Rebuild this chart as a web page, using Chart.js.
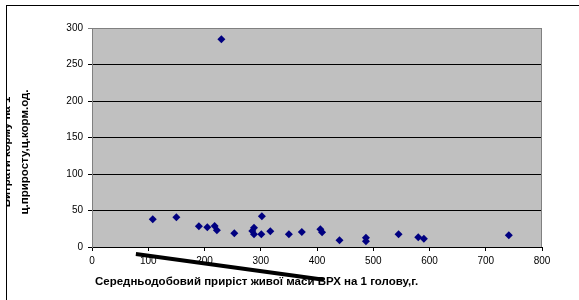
<!DOCTYPE html>
<html>
<head>
<meta charset="utf-8">
<script src="https://cdn.jsdelivr.net/npm/chart.js@4"></script>
<style>
  html, body { margin: 0; padding: 0; background: #fff; }
  #frame {
    position: absolute; left: 6px; top: 5px; width: 573px; height: 295px;
    border-left: 1px solid #000; border-top: 1px solid #000;
    overflow: hidden; box-sizing: border-box;
  }
  #chart { position: absolute; left: -7px; top: -6px; }
</style>
</head>
<body>
<div id="frame"><canvas id="chart" width="579" height="300"></canvas></div>
<script>
// average daily gain (g) vs feed used per 1 c of gain
const gain = [108, 150, 190, 205, 218, 222, 230, 253, 288, 285, 288, 302, 301, 317,
  350, 373, 406, 409, 440, 487, 487, 545, 580, 590, 741];
const feed = [38, 40.7, 28.4, 27, 28.8, 22.9, 284.7, 18.8, 26.5, 22, 17.5, 42.2, 17.4, 21.7,
  17.4, 20.6, 24.2, 20.1, 9.2, 12.8, 7.8, 17.4, 13.3, 11.4, 16];

// stray pen stroke drawn over the axis, in axis units
const strokeX = [78, 412];
const strokeY = [-9.5, -45];

const xTitle = 'Середньодобовий приріст живої маси ВРХ на 1 голову,г.';
const yTitle = ['Витрати корму на 1', 'ц.приросту,ц.корм.од.'];

const tickFont = { family: 'Liberation Sans', size: 10 };

const plotBox = {
  id: 'plotBox',
  beforeDraw(chart) {
    const { ctx, chartArea: a } = chart;
    ctx.save();
    ctx.fillStyle = '#c0c0c0';
    ctx.fillRect(a.left, a.top, a.right - a.left, a.bottom - a.top);
    ctx.restore();
  },
  beforeDatasetsDraw(chart) {
    const { ctx, chartArea: a } = chart;
    ctx.save();
    ctx.strokeStyle = '#808080';
    ctx.lineWidth = 1;
    ctx.beginPath();
    ctx.moveTo(a.left + 0.5, a.bottom);
    ctx.lineTo(a.left + 0.5, a.top + 0.5);
    ctx.lineTo(a.right - 0.5, a.top + 0.5);
    ctx.lineTo(a.right - 0.5, a.bottom);
    ctx.stroke();

    // axis titles
    ctx.fillStyle = '#000';
    ctx.font = 'bold 11.5px "Liberation Sans"';
    ctx.textBaseline = 'middle';
    ctx.textAlign = 'left';
    ctx.fillText(xTitle, 95, 282);
    ctx.translate(0, 152);
    ctx.rotate(-Math.PI / 2);
    ctx.textAlign = 'center';
    ctx.fillText(yTitle[0], 0, 7);
    ctx.fillText(yTitle[1], 0, 25);
    ctx.restore();
  }
};

new Chart(document.getElementById('chart'), {
  type: 'scatter',
  data: {
    datasets: [{
      data: gain.map((g, i) => ({ x: g, y: feed[i] })),
      pointStyle: 'rectRot',
      pointRadius: 4,
      backgroundColor: '#000080',
      borderColor: '#000080',
      borderWidth: 0
    }, {
      type: 'line',
      data: strokeX.map((x, i) => ({ x: x, y: strokeY[i] })),
      borderColor: '#000',
      borderWidth: 4,
      pointRadius: 0,
      clip: false
    }]
  },
  options: {
    responsive: false,
    animation: false,
    layout: { padding: { left: 0, right: 37, top: 28, bottom: 0 } },
    plugins: { legend: { display: false }, tooltip: { enabled: false } },
    scales: {
      x: {
        min: 0, max: 800,
        afterFit: s => { s.height = 53; },
        ticks: { stepSize: 100, color: '#000', font: tickFont, padding: 4, maxRotation: 0 },
        grid: { drawOnChartArea: false, color: '#000', tickLength: 4 },
        border: { color: '#000' }
      },
      y: {
        min: 0, max: 300,
        afterFit: s => { s.width = 92; },
        ticks: { stepSize: 50, color: '#000', font: tickFont, padding: 5 },
        grid: { color: c => c.tick && c.tick.value === 300 ? '#808080' : '#000', tickLength: 4 },
        border: { color: '#808080' }
      }
    }
  },
  plugins: [plotBox]
});
</script>
</body>
</html>
